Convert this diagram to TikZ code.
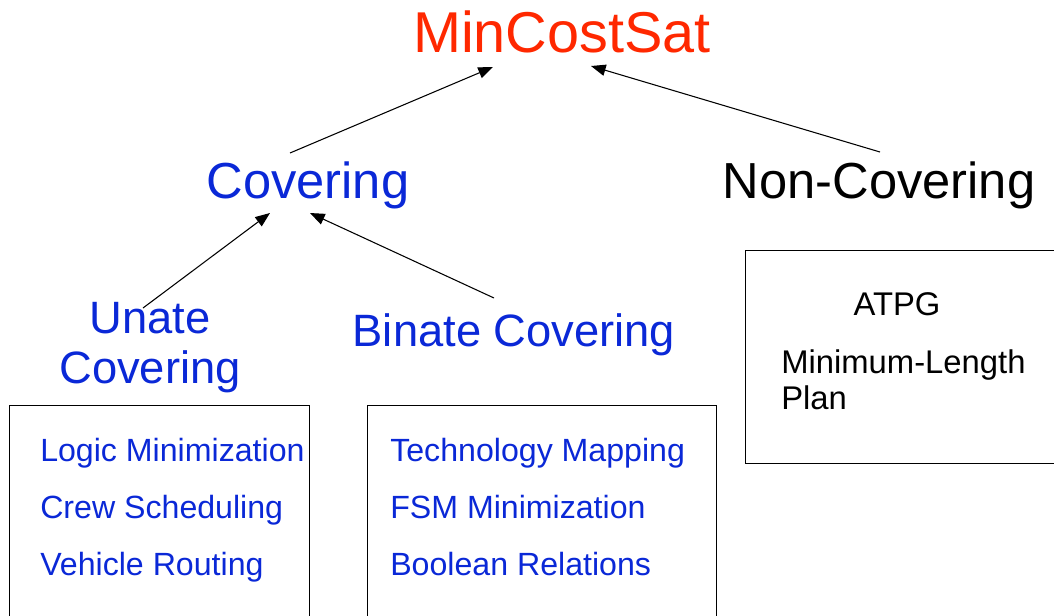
\documentclass[tikz,border=0pt]{standalone}
\usepackage{fontspec}
\setmainfont{Liberation Sans}
\usetikzlibrary{arrows.meta}
\definecolor{titlered}{RGB}{255,40,0}
\definecolor{classblue}{RGB}{10,40,215}
\tikzset{
  head/.style={font=\fontsize{43.2}{51}\selectfont,text=titlered,inner sep=0pt},
  class/.style={font=\fontsize{38}{45}\selectfont,inner sep=0pt},
  subclass/.style={font=\fontsize{34}{37.5}\selectfont,text=classblue,align=center,inner sep=0pt},
  item/.style={font=\fontsize{24.1}{42.75}\selectfont,text=classblue,align=left,inner sep=0pt},
  other/.style={font=\fontsize{24.6}{27}\selectfont,align=left,inner sep=0pt},
  frame/.style={draw,line width=0.75pt},
  up/.style={-{Triangle[length=11pt,width=8.5pt]},line width=0.8pt}
}

\begin{document}
\begin{tikzpicture}[x=0.75pt,y=-0.75pt]
    \useasboundingbox (0,0) rectangle (1054,615);
    \clip (0,0) rectangle (1054,615);

    % — Problem at the top and its two classes
    \node[head,anchor=base] (top) at (562,52) {MinCostSat};
    \node[class,text=classblue,anchor=base] (cov) at (308,198) {Covering};
    \node[class,anchor=base] (noncov) at (879,198) {Non-Covering};

    % — Kinds of covering
    \node[subclass,anchor=north] (unate) at (150,302) {Unate\\Covering};
    \node[subclass,anchor=base] (binate) at (514,346) {Binate Covering};

    % — Applications, one box per class (boxes run off the page)
    \draw[frame] (9,405) rectangle (309,640);
    \draw[frame] (367,405) rectangle (716,640);
    \draw[frame] (745,250) rectangle (1080,463);
    \node[item,anchor=north west] (ulist) at (40,438)
      {Logic Minimization\\Crew Scheduling\\Vehicle Routing};
    \node[item,anchor=north west] (blist) at (390,438)
      {Technology Mapping\\FSM Minimization\\Boolean Relations};
    \node[other,anchor=base] (atpg) at (897,315) {ATPG};
    \node[other,anchor=north west] (plan) at (781,349) {Minimum-Length\\Plan};

    % — Arrows up the hierarchy
    \draw[up] ([shift={(-18,-45)}]cov.base) -- ([shift={(-69,15)}]top.base);
    \draw[up] ([shift={(1,-46)}]noncov.base) -- ([shift={(29,14)}]top.base);
    \draw[up] ([shift={(-7,6)}]unate.north) -- ([shift={(-38,15)}]cov.base);
    \draw[up] ([shift={(-20,-48)}]binate.base) -- ([shift={(2,15)}]cov.base);
\end{tikzpicture}
\end{document}
